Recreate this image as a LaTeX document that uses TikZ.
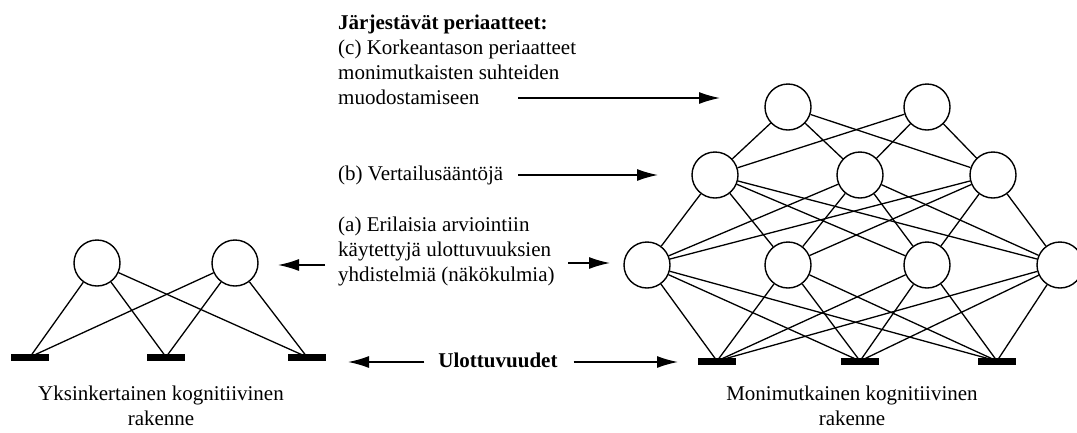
\documentclass[tikz,border=0pt]{standalone}
\usepackage{fontspec}
\setmainfont{Liberation Serif}
\usetikzlibrary{arrows.meta}

\tikzset{
  neuron/.style={draw,circle,line width=1.4pt,minimum size=46pt,inner sep=0pt,fill=white},
  dimbar/.style={fill=black,rectangle,minimum width=38pt,minimum height=7pt,inner sep=0pt},
  link/.style={line width=1.3pt},
  pointer/.style={line width=1.5pt,-{Latex[length=21pt,width=12pt]}},
  caption/.style={font=\fontsize{21}{25}\selectfont,inner sep=0pt}
}

\begin{document}
\begin{tikzpicture}[x=1pt,y=-1pt]
  \useasboundingbox (0,0) rectangle (1077,432);
  %\draw[very thin,lightgray] (0,0) grid[step=50] (1077,432);
  % yksinkertainen rakenne
  \node[neuron] (s1) at (97,263) {};
  \node[neuron] (s2) at (235,263) {};
  \node[dimbar] (t1) at (30,357) {};
  \node[dimbar] (t2) at (166,357) {};
  \node[dimbar] (t3) at (307,357) {};
  \foreach \i in {1,2}
    \foreach \j in {1,2,3}
      \draw[link] (s\i) -- (t\j.center);
  \node[caption,align=center] (simple) at (161,406)
    {Yksinkertainen kognitiivinen\\rakenne};
  % monimutkainen rakenne
  \node[neuron] (c1) at (788,107) {};
  \node[neuron] (c2) at (927,107) {};
  \node[neuron] (b1) at (715,175) {};
  \node[neuron] (b2) at (860,175) {};
  \node[neuron] (b3) at (993,175) {};
  \node[neuron] (a1) at (647,265) {};
  \node[neuron] (a2) at (788,265) {};
  \node[neuron] (a3) at (927,265) {};
  \node[neuron] (a4) at (1060,265) {};
  \node[dimbar] (d1) at (717,361) {};
  \node[dimbar] (d2) at (860,361) {};
  \node[dimbar] (d3) at (997,361) {};
  \foreach \i in {1,2}
    \foreach \j in {1,2,3}
      \draw[link] (c\i) -- (b\j);
  \foreach \i in {1,2,3}
    \foreach \j in {1,...,4}
      \draw[link] (b\i) -- (a\j);
  \foreach \i in {1,...,4}
    \foreach \j in {1,2,3}
      \draw[link] (a\i) -- (d\j.center);
  \node[caption,align=center] (complex) at (852,406)
    {Monimutkainen kognitiivinen\\rakenne};
  % periaatteet
  \node[caption,align=left,anchor=north west] (lvlc) at (338,14.5)
    {\textbf{Järjestävät periaatteet:}\\(c) Korkeantason periaatteet\\monimutkaisten suhteiden\\muodostamiseen};
  \node[caption,anchor=base west] (lvlb) at (338,180) {(b) Vertailusääntöjä};
  \node[caption,align=left,anchor=north west] (lvla) at (338,216.5)
    {(a) Erilaisia arviointiin\\käytettyjä ulottuvuuksien\\yhdistelmiä (näkökulmia)};
  \node[caption,font=\fontsize{21}{25}\selectfont\bfseries] (dims) at (498,360) {Ulottuvuudet};
  \coordinate (pc0) at (518,98);  \coordinate (pc1) at (720,98);
  \coordinate (pb0) at (518,175); \coordinate (pb1) at (658,175);
  \coordinate (pa0) at (568,263); \coordinate (pa1) at (610,263);
  \coordinate (pl0) at (325,265); \coordinate (pl1) at (278,265);
  \coordinate (dl) at (348,362);  \coordinate (dr) at (678,362);
  \draw[pointer] (pc0) -- (pc1);
  \draw[pointer] (pb0) -- (pb1);
  \draw[pointer] (pa0) -- (pa1);
  \draw[pointer] (pl0) -- (pl1);
  \draw[pointer] ([xshift=-14pt]dims.west |- dl) -- (dl);
  \draw[pointer] ([xshift=16pt]dims.east |- dr) -- (dr);
\end{tikzpicture}
\end{document}
